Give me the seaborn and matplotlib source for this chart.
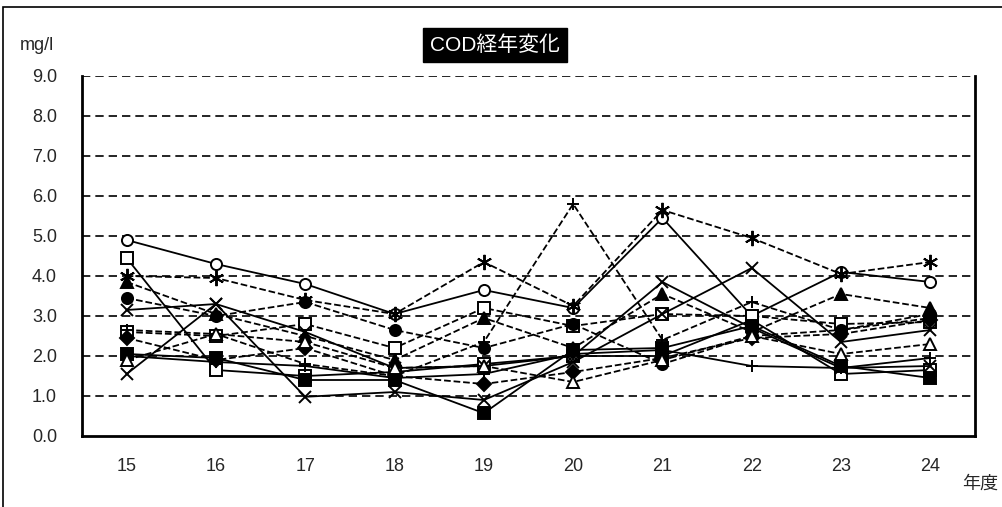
import numpy as np
import pandas as pd
import matplotlib
matplotlib.use('Agg')
import matplotlib.pyplot as plt
import seaborn as sns
from matplotlib.patches import Rectangle

sns.set_style('white')
plt.rcParams['font.family'] = ['Liberation Sans', 'Noto Sans CJK JP', 'DejaVu Sans']

years = ['15', '16', '17', '18', '19', '20', '21', '22', '23', '24']

# COD values (mg/l) per site
s1 = [4.9, 4.3, 3.8, 3.05, 3.65, 3.2, 5.45, 3.0, 4.1, 3.85]
s2 = [4.45, 1.65, 1.5, 1.6, 1.8, 2.0, 2.0, 2.9, 1.55, 1.65]
s3 = [2.6, 2.5, 2.8, 2.2, 3.2, 2.75, 3.05, 3.0, 2.8, 2.85]
s4 = [3.85, 3.05, 2.5, 1.9, 2.95, 2.2, 3.55, 2.6, 3.55, 3.2]
s5 = [3.45, 3.0, 3.35, 2.65, 2.2, 2.8, 1.8, 2.5, 2.65, 3.05]
s6 = [4.0, 3.95, 3.4, 3.05, 4.35, 3.25, 5.65, 4.95, 4.05, 4.35]
s7 = [3.15, 3.3, 2.6, 1.7, 1.75, 2.0, 3.85, 2.7, 1.7, 1.75]
s8 = [1.55, 3.3, 0.98, 1.1, 0.9, 1.85, 3.05, 4.2, 2.35, 2.65]
s9 = [2.65, 2.55, 1.8, 1.5, 2.35, 5.8, 2.4, 3.35, 2.65, 2.95]
s10 = [2.0, 1.85, 1.75, 1.45, 1.55, 2.05, 2.15, 1.75, 1.7, 1.95]
s11 = [2.45, 1.9, 2.2, 1.5, 1.3, 1.6, 1.95, 2.45, 2.55, 2.9]
s12 = [2.05, 1.95, 1.4, 1.4, 0.57, 2.15, 2.2, 2.75, 1.75, 1.45]
s13 = [1.9, 2.55, 2.35, 1.7, 1.75, 1.35, 1.9, 2.5, 2.05, 2.3]

series = [
    (s1, 'o', 'white', '-'),
    (s2, 's', 'white', '-'),
    (s3, 's', 'white', '--'),
    (s4, '^', 'black', '--'),
    (s5, 'o', 'black', '--'),
    (s6, (6, 2, 0), 'black', '--'),
    (s7, 'x', 'black', '-'),
    (s8, 'x', 'black', '-'),
    (s9, '+', 'black', '--'),
    (s10, '+', 'black', '-'),
    (s11, 'D', 'black', '--'),
    (s12, 's', 'black', '-'),
    (s13, '^', 'white', '--'),
]

fig = plt.figure(figsize=(10.02, 5.07), dpi=100)
ax = fig.add_axes([82 / 1002, 1 - 436 / 507, (975 - 82) / 1002, (436 - 76) / 507])

x = np.arange(len(years))
for vals, mk, fc, ls in series:
    df = pd.DataFrame({'year': x, 'cod': vals})
    ms = 9 if mk in ('x', '+') else 8
    if mk == (6, 2, 0):
        ms = 11
    if mk == 'D':
        ms = 7
    sns.lineplot(data=df, x='year', y='cod', ax=ax, color='black', linewidth=1.3,
                 linestyle=ls, marker=mk, markersize=ms, markerfacecolor=fc,
                 markeredgecolor='black', markeredgewidth=1.4, zorder=3)

ax.set_xlim(-0.5, len(years) - 0.5)
ax.set_ylim(0, 9)
ax.set_yticks(np.arange(0, 9.1, 1.0))
ax.set_yticklabels([f'{v:.1f}' for v in np.arange(0, 9.1, 1.0)], fontsize=13)
ax.set_xticks(x)
ax.set_xticklabels(years, fontsize=13)
ax.set_xticks(np.arange(-0.5, len(years), 1.0), minor=True)
ax.tick_params(axis='x', which='major', length=0, pad=16)
ax.tick_params(axis='x', which='minor', length=5, direction='in', width=1.2, color='black')
ax.tick_params(axis='y', length=0, pad=18)
ax.set_xlabel('')
ax.set_ylabel('')

for v in np.arange(1, 9.1, 1.0):
    ax.axhline(v, color='black', linewidth=1.2, linestyle=(0, (5, 3)), zorder=1)

for side in ['left', 'bottom', 'right']:
    ax.spines[side].set_color('black')
    ax.spines[side].set_linewidth(2)
ax.spines['top'].set_visible(False)

# outer chart frame
fig.patches.append(Rectangle((3 / 1002, -0.05), 1.2, 1 - 7 / 507 + 0.05,
                             transform=fig.transFigure, fill=False,
                             edgecolor='black', linewidth=1.2))

fig.text(495 / 1002, 1 - 45 / 507, 'COD経年変化', ha='center', va='center',
         fontsize=15, color='white',
         family=['Liberation Sans', 'Noto Sans CJK JP'],
         bbox=dict(boxstyle='square,pad=0.35', facecolor='black', edgecolor='black'))
fig.text(20 / 1002, 1 - 45 / 507, 'mg/l', ha='left', va='center', fontsize=13)
fig.text(998 / 1002, 1 - 484 / 507, '年度', ha='right', va='center', fontsize=13,
         family=['Noto Sans CJK JP'])

plt.savefig('out.png', dpi=100)
